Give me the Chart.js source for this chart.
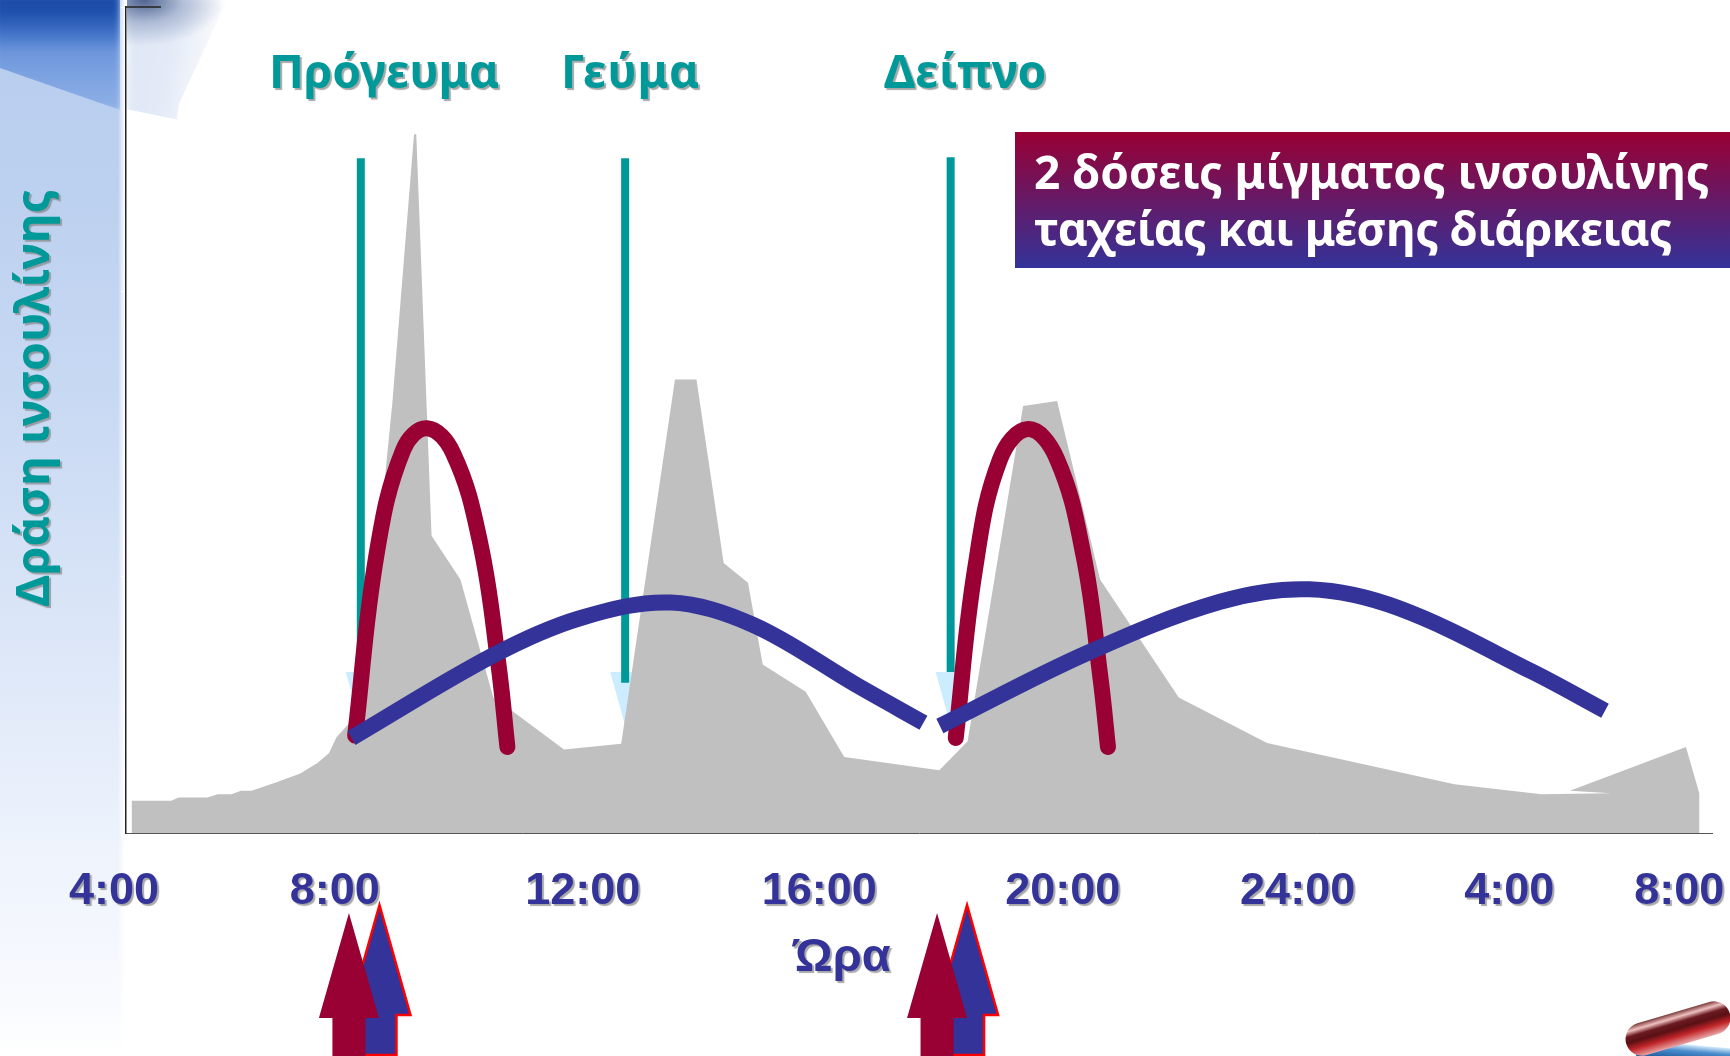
<!DOCTYPE html>
<html lang="el">
<head>
<meta charset="utf-8">
<title>Δράση ινσουλίνης</title>
<script src="https://cdn.jsdelivr.net/npm/chart.js@4"></script>
<style>
html,body{margin:0;padding:0;background:#fff;width:1730px;height:1056px;overflow:hidden}
#stage{position:relative;width:1730px;height:1056px;overflow:hidden;background:#fff}
#stage>div{position:absolute}
#side{left:0;top:0;width:125px;height:1056px;
 background:linear-gradient(90deg,rgba(255,255,255,0) 0,rgba(255,255,255,0) 118px,#fff 125px),
 linear-gradient(180deg,#b8cdee 0,#bcd0ef 190px,#c8d9f3 400px,#dde7f8 650px,#eef3fc 850px,#f8fafe 1000px,#fff 1056px)}
#cap{left:-6px;top:-6px;width:126px;height:116px;clip-path:polygon(0 0,100% 0,100% 100%,0 62%);filter:blur(3px);
 background:linear-gradient(180deg,#1a4aa6 0,#1f50ac 18px,#3f70c6 38px,#6d97dc 58px,#7ba2e0 80px,#8fb0e6 116px)}
#shard1{left:127px;top:0;width:100px;height:130px;clip-path:polygon(0 0,100% 0,52% 80%,50% 92%,0 84%);filter:blur(4px);opacity:.85;
 background:linear-gradient(100deg,#d8e2f4 0,#e0e8f6 45%,#f2f5fb 70%,#fff 92%)}
#shard2{left:127px;top:0;width:95px;height:45px;
 background:radial-gradient(ellipse at 18% 0,rgba(50,75,125,.85) 0,rgba(120,140,180,.5) 35%,rgba(255,255,255,0) 72%)}
#pill1{left:1624px;top:1012px;width:108px;height:33px;border-radius:16.5px;transform:rotate(-16.5deg);
 background:linear-gradient(180deg,#7a3a3a 0,#efc0c0 16%,#6a1a20 32%,#5a1015 50%,#c02428 72%,#e9a5a5 100%)}
#pill2{left:1636px;top:1045px;width:110px;height:30px;border-radius:6px;transform:rotate(5deg);
 background:linear-gradient(180deg,#d5ecfb 0,#4b8ccc 22%,#1f5fa0 50%,#123f80 100%)}
canvas{position:absolute;left:0;top:0;background:transparent}
</style>
</head>
<body>
<div id="stage">
<div id="side"></div><div id="cap"></div><div id="shard1"></div><div id="shard2"></div>
<div id="pill2"></div><div id="pill1"></div>
<canvas id="c" width="1730" height="1056"></canvas>
</div>
<script>
// Hours after the first 4:00 mark, and relative insulin action (0-100).
const tickLabels = ['4:00','8:00','12:00','16:00','20:00','24:00','4:00','8:00'];
const tickHours  = [-0.23,3.67,8.05,12.23,16.53,20.68,24.42,27.42];
const actionTicks = [0,31.1,65.6,100];

const glucoseX = [0.08,0.08,0.78,0.91,1.42,1.60,1.85,2.01,2.20,2.63,3.06,3.37,3.57,3.70,3.90,4.19,4.69,5.07,5.11,5.38,5.89,6.43,6.47,6.80,7.72,8.73,9.68,10.06,10.54,10.97,11.23,11.99,12.67,14.35,14.85,15.83,16.43,17.19,18.58,20.14,23.45,24.99,26.22,25.49,27.54,27.78,27.78];
const glucoseY = [0,3.9,3.9,4.3,4.3,4.7,4.7,5.1,5.1,6.1,7.2,8.5,9.7,11.6,13.1,17.4,52.3,84.6,84.6,36.0,30.7,17.4,16.4,14.8,10.1,10.8,54.9,54.9,32.7,30.3,20.4,17.1,9.2,7.6,11.1,51.7,52.3,30.7,16.4,10.9,5.9,4.7,4.8,5.1,10.4,4.7,0];
const ledgeX = [24.99,27.78];
const ledgeY = [-0.27,-0.27];

const rapidMorningX = [4.03,4.41,4.88,5.30,5.76,6.24,6.56,6.72];
const rapidMorningY = [11.8,33.8,46.4,49.0,46.0,35.1,20.5,10.4];
const rapidEveningX = [14.64,14.98,15.42,15.92,16.42,16.90,17.20,17.33];
const rapidEveningY = [11.5,31.9,45.2,48.9,45.4,33.5,18.6,10.4];

const mediumMorningX = [3.966,6.466,8.0,9.6,11.06,12.89,14.07];
const mediumMorningY = [11.5,21.5,26.0,27.9,25.2,17.9,13.35];
const mediumEveningX = [14.36,16.95,19.31,20.89,22.47,24.83,26.11];
const mediumEveningY = [12.95,21.75,28.0,29.5,27.2,19.5,14.8];

const mealNames = ['Πρόγευμα','Γεύμα','Δείπνο'];
const mealHours = [4.13,8.80,14.55];
const mealLineTops = [81.7,81.7,81.8];
const mealLineBottoms = [19.5,18.2,19.5];
const mealArrowTop = [19.5,19.5,19.5];
const mealArrowTip = [13,13,13];
const mealArrowLeft = 0.265;
const mealArrowRight = 0.12;

const doseRapidHours = [3.92,14.31];
const doseMediumHours = [4.46,14.84];

const boxLines = ['2 δόσεις μίγματος ινσουλίνης','ταχείας και μέσης διάρκειας'];
const xTitle = 'Ώρα';
const yTitle = 'Δράση ινσουλίνης';

const X_MIN=-0.018, X_MAX=28, SMOOTH_RAPID=0.4, SMOOTH_MEDIUM=0.35;
const RED='#990033', BLUE='#333399', TEAL='#009999', GRAY='#C0C0C0', SKY='#CCECFF';
const zip=(xs,ys)=>xs.map((x,i)=>({x,y:ys[i]}));
const line=(label,xs,ys,color,width,order,extra={})=>Object.assign({
  label,data:zip(xs,ys),borderColor:color,borderWidth:width,backgroundColor:color,
  showLine:true,pointRadius:0,fill:false,tension:0,order,clip:false},extra);

const datasets=[
  line('Άξονας',[X_MIN,0.6],[100,100],'#222',1.5,9),
  ...mealHours.map((h,i)=>line('Βέλος '+mealNames[i],[h-mealArrowLeft,h,h+mealArrowRight],[mealArrowTop[i],mealArrowTip[i],mealArrowTop[i]],SKY,0,8,{fill:{value:mealArrowTop[i]}})),
  line('Γλυκόζη',glucoseX,glucoseY,GRAY,0,7,{fill:'origin'}),
  line('Γλυκόζη βάση',ledgeX,ledgeY,GRAY,0,7,{fill:'origin'}),
  ...mealHours.map((h,i)=>line(mealNames[i],[h,h],[mealLineTops[i],mealLineBottoms[i]],TEAL,8,6)),
  line('Ταχείας δράσης πρωί',rapidMorningX,rapidMorningY,RED,16,5,{tension:SMOOTH_RAPID,borderCapStyle:'round'}),
  line('Ταχείας δράσης βράδυ',rapidEveningX,rapidEveningY,RED,16,4,{tension:SMOOTH_RAPID,borderCapStyle:'round'}),
  line('Μέσης δράσης πρωί',mediumMorningX,mediumMorningY,BLUE,16,3,{tension:SMOOTH_MEDIUM,borderCapStyle:'butt'}),
  line('Μέσης δράσης βράδυ',mediumEveningX,mediumEveningY,BLUE,16,2,{tension:SMOOTH_MEDIUM,borderCapStyle:'butt'})
];

function shadowed(ctx,color,dx,dy,blur){ctx.shadowColor=color;ctx.shadowOffsetX=dx;ctx.shadowOffsetY=dy;ctx.shadowBlur=blur;}
const SHADOW='rgba(130,130,130,.7)';

function arrow(ctx,xc,tip,base,headHalf,shaftHalf,bottom,fill,stroke){
  ctx.beginPath();
  ctx.moveTo(xc,tip);ctx.lineTo(xc+headHalf,base);ctx.lineTo(xc+shaftHalf,base);
  ctx.lineTo(xc+shaftHalf,bottom);ctx.lineTo(xc-shaftHalf,bottom);ctx.lineTo(xc-shaftHalf,base);
  ctx.lineTo(xc-headHalf,base);ctx.closePath();
  ctx.fillStyle=fill;ctx.fill();
  if(stroke){ctx.strokeStyle=stroke;ctx.lineWidth=2.5;ctx.stroke();}
}

const decorations={
  id:'decorations',
  afterLayout(chart){
    const {x,y}=chart.scales, ctx=chart.ctx;
    if(x._wrapped) return; x._wrapped=true;
    const labels=x.drawLabels.bind(x);
    x.drawLabels=a=>{ctx.save();shadowed(ctx,SHADOW,2,2,1);labels(a);ctx.restore();};
    const xt=x.drawTitle.bind(x);
    x.drawTitle=()=>{ctx.save();shadowed(ctx,SHADOW,2,2,1);ctx.translate(-77,-70);xt();ctx.restore();};
    const yt=y.drawTitle.bind(y);
    y.drawTitle=()=>{ctx.save();shadowed(ctx,SHADOW,2,2,1);ctx.translate(4,-22);yt();ctx.restore();};
  },
  afterDatasetsDraw(chart){
    const ctx=chart.ctx, sx=chart.scales.x;
    ctx.save();
    doseMediumHours.forEach(h=>arrow(ctx,sx.getPixelForValue(h),905,1015,31,17,1055,BLUE,'#FF0000'));
    doseRapidHours.forEach(h=>arrow(ctx,sx.getPixelForValue(h),913,1018,30,16.5,1060,RED,null));
    ctx.font='bold 46.2px "Noto Sans"';ctx.textAlign='left';ctx.textBaseline='alphabetic';
    ctx.fillStyle=TEAL;
    shadowed(ctx,SHADOW,2,2,1);
    const spacing=['-0.1px','0.9px','0.35px'];
    [269,561,884].forEach((px,i)=>{ctx.letterSpacing=spacing[i];ctx.fillText(mealNames[i],px,88);});
    ctx.restore();
    ctx.save();
    const g=ctx.createLinearGradient(0,132,0,268);
    g.addColorStop(0,RED);g.addColorStop(1,BLUE);
    ctx.fillStyle=g;ctx.fillRect(1015,132,715,136);
    ctx.fillStyle='#fff';ctx.font='bold 46px "Noto Sans"';ctx.textAlign='left';
    ctx.fillText(boxLines[0],1034,189);
    ctx.letterSpacing='-0.5px';
    ctx.fillText(boxLines[1],1034,246);
    ctx.restore();
  }
};

new Chart(document.getElementById('c'),{
  type:'scatter',
  data:{datasets},
  options:{
    responsive:false,animation:false,
    layout:{padding:{top:7,right:18,left:0,bottom:0}},
    plugins:{legend:{display:false},tooltip:{enabled:false}},
    scales:{
      x:{type:'linear',min:X_MIN,max:X_MAX,
        grid:{display:false},
        border:{display:true,color:'#555',width:1},
        afterBuildTicks:s=>{s.ticks=tickHours.map(v=>({value:v}));},
        afterFit:s=>{s.height=223;s.paddingLeft=0;s.paddingRight=0;},
        ticks:{autoSkip:false,maxRotation:0,minRotation:0,padding:24,color:BLUE,
          font:{family:'"Liberation Sans"',weight:'bold',size:45},
          callback:(v,i)=>tickLabels[i]},
        title:{display:true,text:xTitle,color:BLUE,
          font:{family:'"Liberation Sans"',weight:'bold',size:47},padding:{top:0,bottom:0}}
      },
      y:{type:'linear',min:0,max:100,
        grid:{drawOnChartArea:false,drawTicks:true,tickLength:5,color:'#fff'},
        border:{display:true,color:'#222',width:1.5},
        afterBuildTicks:s=>{s.ticks=actionTicks.map(v=>({value:v}));},
        afterFit:s=>{s.width=126;},
        ticks:{display:false},
        title:{display:true,text:yTitle,color:TEAL,
          font:{family:'"Noto Sans"',weight:'bold',size:46.5},padding:{top:4,bottom:0}}
      }
    }
  },
  plugins:[decorations]
});
</script>
</body>
</html>
